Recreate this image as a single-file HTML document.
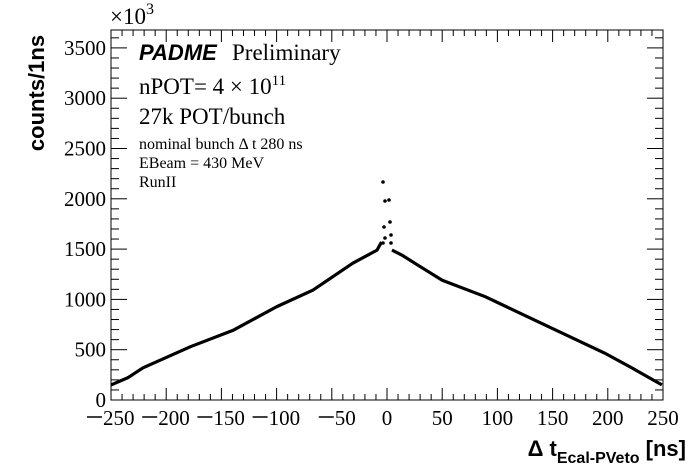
<!DOCTYPE html><html><head><style>body{margin:0;background:#fff}svg{display:block}</style></head><body>
<svg width="698" height="476" xmlns="http://www.w3.org/2000/svg">
<g id="ticks" stroke="#000" stroke-width="1"></g>
<rect x="111" y="30" width="552" height="370" fill="none" stroke="#000" stroke-width="1"/>
<polyline id="d" fill="none" stroke="#000" stroke-width="3.2" stroke-linejoin="round"/>
<g id="pk" fill="#000"></g>
<g font-family="Liberation Serif, serif" font-size="21" fill="#000" text-anchor="end" id="yl"></g>
<g font-family="Liberation Serif, serif" font-size="21" fill="#000" id="xl"></g>
<text x="110" y="24" font-family="Liberation Serif, serif" font-size="23">×10<tspan dy="-10" font-size="16">3</tspan></text>
<text x="44" y="93" transform="rotate(-90 44 93)" text-anchor="middle" font-family="Liberation Sans, sans-serif" font-weight="bold" font-size="22">counts/1ns</text>
<text x="686" y="456" text-anchor="end" font-family="Liberation Sans, sans-serif" font-weight="bold" font-size="22">Δ t<tspan dy="7" font-size="16">Ecal-PVeto</tspan><tspan dy="-7"> [ns]</tspan></text>
<text x="139" y="60" font-family="Liberation Sans, sans-serif" font-weight="bold" font-style="italic" font-size="22">PADME</text>
<text x="232" y="60" font-family="Liberation Serif, serif" font-size="23">Preliminary</text>
<text x="139" y="94" font-family="Liberation Serif, serif" font-size="23">nPOT= 4 × 10<tspan dy="-9" font-size="15">11</tspan></text>
<text x="139" y="124" font-family="Liberation Serif, serif" font-size="23">27k POT/bunch</text>
<text x="139" y="149" font-family="Liberation Serif, serif" font-size="16">nominal bunch Δ t 280 ns</text>
<text x="139" y="168" font-family="Liberation Serif, serif" font-size="16">EBeam = 430 MeV</text>
<text x="139" y="187" font-family="Liberation Serif, serif" font-size="16">RunII</text>
</svg>
<script>
const X=v=>387+v*1.104, Y=v=>400-v*0.1006;
let t='';
for(let v=-250;v<=250;v+=10){const M=v%50==0;t+=`<line x1="${X(v)}" x2="${X(v)}" y1="400" y2="${400-(M?12:6)}"/><line x1="${X(v)}" x2="${X(v)}" y1="30" y2="${30+(M?12:6)}"/>`;}
for(let v=0;v<=3600;v+=100){const M=v%500==0;t+=`<line x1="111" x2="${111+(M?16:8)}" y1="${Y(v)}" y2="${Y(v)}"/><line x1="663" x2="${663-(M?16:8)}" y1="${Y(v)}" y2="${Y(v)}"/>`;}
document.getElementById('ticks').innerHTML=t;
let yl='';for(let v=0;v<=3500;v+=500)yl+=`<text x="106" y="${Y(v)+7}">${v}</text>`;
document.getElementById('yl').innerHTML=yl;
let xl='';for(let v=-250;v<=250;v+=50){const c=X(v);
 if(v<0){const w=v==-50?20:31;const s=c+23-w;xl+=`<line x1="${s-16}" x2="${s-1}" y1="417" y2="417" stroke="#000" stroke-width="1.5"/><text x="${s}" y="425">${-v}</text>`;}
 else xl+=`<text x="${c}" y="425" text-anchor="middle">${v}</text>`;}
document.getElementById('xl').innerHTML=xl;
const L=[[-250,150],[-235,220],[-221,320],[-178,530],[-139,695],[-100,927],[-67,1093],[-31,1360],[-9,1490],[-5,1570]];
const R=[[4.5,1490],[13.6,1440],[28,1340],[50,1190],[89,1027],[149,715],[197,467],[222,318],[249,150]];
document.getElementById('d').setAttribute('points',L.map(p=>X(p[0])+','+Y(p[1])).join(' '));
const d2=document.getElementById('d').cloneNode();d2.setAttribute('points',R.map(p=>X(p[0])+','+Y(p[1])).join(' '));
document.getElementById('d').after(d2);
const pk=[[383,182],[385,201],[389,200],[384,227],[390,222],[385,238],[391,235],[383,243],[391,243]];
document.getElementById('pk').innerHTML=pk.map(p=>`<circle cx="${p[0]}" cy="${p[1]}" r="1.8"/>`).join('');
</script>
</body></html>
